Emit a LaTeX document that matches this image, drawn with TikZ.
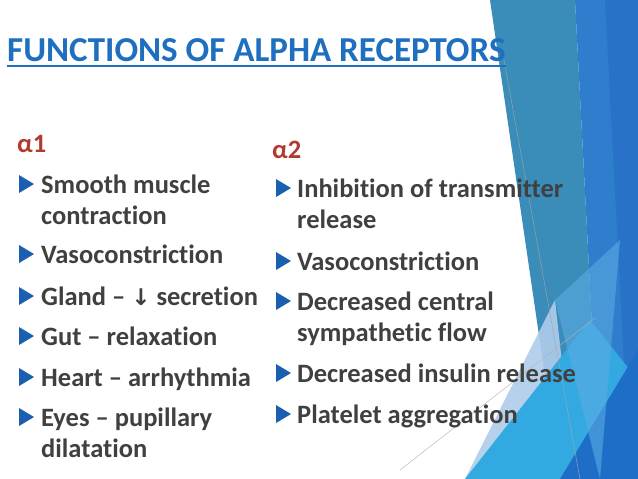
\documentclass[tikz,border=0pt]{standalone}
\usepackage{fontspec}
\setmainfont[Ligatures=NoCommon]{Carlito}
\newfontfamily\djv{DejaVu Sans}
\definecolor{titleblue}{HTML}{1F6FC0}
\definecolor{txt}{HTML}{404040}
\definecolor{alph}{HTML}{B23A30}
\definecolor{bul}{HTML}{1A5FB0}
\begin{document}
\begin{tikzpicture}[x=1pt,y=-1pt,
  body/.style={anchor=base west,inner sep=0,font=\fontsize{26.5}{30}\selectfont\bfseries,text=txt},
  bulletmark/.style={fill=bul}]
\useasboundingbox (0,0) rectangle (638,479);
\fill[white] (0,0) rectangle (638,479);
% decoration
\fill[color={rgb,255:red,58;green,140;blue,185}] (490,0) -- (575,0) -- (600,479) -- (560,479) -- cycle;
\fill[color={rgb,255:red,47;green,125;blue,205}] (560,0) -- (638,0) -- (638,479) -- (600,479) -- (575,0) -- cycle;
\fill[color={rgb,255:red,40;green,115;blue,200}] (605,0) -- (638,0) -- (638,479) -- (630,479) -- cycle;
\fill[color={rgb,255:red,175;green,205;blue,235},opacity=0.9] (465,479) -- (555,300) -- (575,479) -- cycle;
\fill[color={rgb,255:red,50;green,170;blue,225}] (465,479) -- (590,320) -- (638,380) -- (638,479) -- cycle;
\fill[color={rgb,255:red,30;green,110;blue,200}] (560,479) -- (638,350) -- (638,479) -- cycle;
\fill[color={rgb,255:red,90;green,170;blue,225},opacity=0.6] (555,300) -- (620,240) -- (600,479) -- cycle;
\draw[gray!70,thin] (504,60) -- (580,479);
\draw[gray!60,thin] (400,470) -- (595,318);
% title
\node[anchor=base west,inner sep=0,font=\fontsize{35}{38}\selectfont\bfseries,text=titleblue] (title) at (7,61) {FUNCTIONS OF ALPHA RECEPTORS};
\draw[titleblue,line width=1.3pt] ([yshift=-5pt]title.base west) -- ([yshift=-5pt]title.base east);
% headers
\node[body,text=alph] (a1) at (17,152) {α1};
\node[body,text=alph] (a2) at (272,158) {α2};
% bullets
\foreach \n/\x/\y in {b1/19/193,b2/19/263,b3/19/305,b4/19/345,b5/19/386,b6/19/426,c1/276/197,c2/276/270,c3/276/310,c4/276/382,c5/276/423}{
  \fill[bulletmark] (\x,\y-18) -- (\x+15,\y-9) -- (\x,\y) -- cycle;
}
\node[body] (t1) at (41,193) {Smooth muscle};
\node[body] (t1b) at (41,224) {contraction};
\node[body] (t2) at (41,263) {Vasoconstriction};
\node[body] (t3) at (41,305) {Gland – {\djv\fontsize{23}{26}\selectfont ↓} secretion};
\node[body] (t4) at (41,345) {Gut – relaxation};
\node[body] (t5) at (41,386) {Heart – arrhythmia};
\node[body] (t6) at (41,426) {Eyes – pupillary};
\node[body] (t6b) at (41,457) {dilatation};
\node[body] (u1) at (297,197) {Inhibition of transmitter};
\node[body] (u1b) at (297,228) {release};
\node[body] (u2) at (297,270) {Vasoconstriction};
\node[body] (u3) at (297,310) {Decreased central};
\node[body] (u3b) at (297,341) {sympathetic flow};
\node[body] (u4) at (297,382) {Decreased insulin release};
\node[body] (u5) at (297,423) {Platelet aggregation};
\end{tikzpicture}
\end{document}
